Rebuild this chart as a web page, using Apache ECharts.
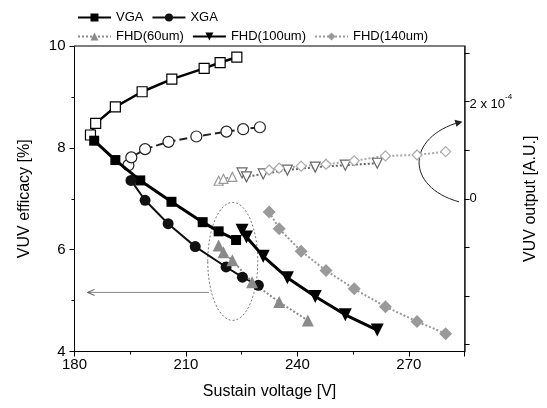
<!DOCTYPE html>
<html><head><meta charset="utf-8">
<script src="https://cdn.jsdelivr.net/npm/echarts@6/dist/echarts.min.js"></script>
<style>html,body{margin:0;padding:0;background:#fff}#c{width:547px;height:408px}</style>
</head><body><div id="c"></div>
<script>
// ---- data (left axis: VUV efficacy %) ----
var vgaV   = [185.3, 191.0, 197.7, 206.1, 214.5, 218.8, 223.5];
var vgaEff = [8.14, 7.76, 7.36, 6.94, 6.54, 6.36, 6.19];
var xgaV   = [195.2, 199.0, 205.2, 212.5, 220.8, 225.2, 229.5];
var xgaEff = [7.36, 6.97, 6.51, 6.06, 5.66, 5.46, 5.30];
var f60V   = [218.8, 220.1, 222.5, 227.8, 235.1, 242.8];
var f60Eff = [6.08, 5.95, 5.79, 5.36, 4.97, 4.61];
var f100V  = [225.1, 226.3, 230.8, 237.3, 244.8, 252.9, 261.5];
var f100Eff= [6.38, 6.25, 5.87, 5.45, 5.08, 4.72, 4.42];
var f140V  = [232.4, 235.1, 241.0, 247.7, 255.3, 263.7, 272.2, 279.9];
var f140Eff= [6.74, 6.41, 5.97, 5.59, 5.23, 4.88, 4.59, 4.35];
// ---- data (right axis: VUV output, x 1e-4 A.U.) ----
var vgaOutV  = [184.3, 185.7, 191.0, 198.2, 206.2, 214.9, 219.2, 223.7];
var vgaOut   = [1.31, 1.55, 1.89, 2.20, 2.46, 2.68, 2.80, 2.91];
var xgaOutV  = [194.5, 195.3, 199.0, 205.3, 212.8, 220.9, 225.4, 229.9];
var xgaOut   = [0.69, 0.85, 1.02, 1.17, 1.28, 1.38, 1.43, 1.47];
var f60OutV  = [218.8, 220.1, 222.5];
var f60Out   = [0.37, 0.41, 0.45];
var f100OutV = [225.1, 226.3, 230.8, 237.3, 244.8, 252.9, 261.5];
var f100Out  = [0.53, 0.45, 0.51, 0.59, 0.65, 0.69, 0.73];
var f140OutV = [232.4, 235.1, 241.0, 247.7, 255.3, 263.7, 272.2, 279.9];
var f140Out  = [0.59, 0.63, 0.67, 0.71, 0.78, 0.88, 0.90, 0.97];
// ---- axis ticks ----
var xTicks = [180, 210, 240, 270];
var yTicks = [4, 6, 8, 10];
var rLabelTicks = [0, 2];
var rTicks = [-3, -2, -1, 0, 1, 2, 3];

function zip(a, b) { return a.map(function (v, i) { return [v, b[i]]; }); }

var FONT = '"Liberation Sans", Arial, sans-serif';
var chart = echarts.init(document.getElementById('c'), null, {renderer: 'canvas'});

function filled(name, xs, ys, symbol, size, color, lw, ltype, rot) {
  return {name: name, type: 'line', data: zip(xs, ys), xAxisIndex: 0, yAxisIndex: 0,
    symbol: symbol, symbolSize: size, symbolRotate: rot || 0, showSymbol: true,
    itemStyle: {color: color, borderColor: color, borderWidth: 0},
    lineStyle: {color: color, width: lw, type: ltype}, animation: false, z: 3};
}
function hollow(name, xs, ys, symbol, size, color, lw, ltype, rot) {
  return {name: name, type: 'line', data: zip(xs, ys), xAxisIndex: 0, yAxisIndex: 1,
    symbol: symbol, symbolSize: size, symbolRotate: rot || 0, showSymbol: true,
    itemStyle: {color: '#fff', borderColor: color, borderWidth: 1.2},
    lineStyle: {color: color, width: lw, type: ltype}, animation: false, z: 2};
}

var option = {
  backgroundColor: '#fff',
  textStyle: {fontFamily: FONT},
  grid: {left: 74.5, right: 64, top: 46, bottom: 56.5, show: true, borderColor: '#000', borderWidth: 1},
  legend: [
    {data: ['VGA', 'XGA'], left: 72, top: 6, itemWidth: 33, itemHeight: 10, itemGap: 8,
     textStyle: {fontFamily: FONT, fontSize: 13, color: '#000'}},
    {data: ['FHD(60um)', 'FHD(100um)', 'FHD(140um)'], left: 72, top: 25, itemWidth: 33, itemHeight: 10, itemGap: 8,
     textStyle: {fontFamily: FONT, fontSize: 13, color: '#000'}}
  ],
  xAxis: [{
    type: 'value', min: 180, max: 285, interval: 30,
    name: 'Sustain voltage [V]', nameLocation: 'middle', nameGap: 32,
    nameTextStyle: {fontFamily: FONT, fontSize: 16, color: '#000'},
    axisLine: {show: true, onZero: false, lineStyle: {color: '#000', width: 1}},
    axisTick: {show: true, length: 5, lineStyle: {color: '#000'}},
    minorTick: {show: true, splitNumber: 2, length: 3, lineStyle: {color: '#000'}},
    axisLabel: {customValues: xTicks, fontFamily: FONT, fontSize: 15, color: '#000', margin: 6},
    splitLine: {show: false}
  }],
  yAxis: [{
    type: 'value', min: 4, max: 10, interval: 2, position: 'left',
    name: 'VUV efficacy [%]', nameLocation: 'middle', nameGap: 42,
    nameTextStyle: {fontFamily: FONT, fontSize: 16, color: '#000'},
    axisLine: {show: true, lineStyle: {color: '#000', width: 1}},
    axisTick: {show: true, length: 5, lineStyle: {color: '#000'}},
    minorTick: {show: true, splitNumber: 2, length: 3, lineStyle: {color: '#000'}},
    axisLabel: {customValues: yTicks, fontFamily: FONT, fontSize: 15, color: '#000', margin: 9},
    splitLine: {show: false}
  }, {
    type: 'value', min: -3.14, max: 3.14, position: 'right',
    name: 'VUV output [A.U.]', nameLocation: 'middle', nameGap: 35,
    nameTextStyle: {fontFamily: FONT, fontSize: 16, color: '#000'},
    axisLine: {show: true, lineStyle: {color: '#333', width: 1.5}},
    axisTick: {show: true, length: 5, customValues: rTicks, lineStyle: {color: '#000'}},
    axisLabel: {customValues: rLabelTicks, fontFamily: FONT, fontSize: 13, color: '#000', margin: 5,
      formatter: function (v) { return v === 0 ? '0' : '{a|' + v + ' x 10}{b|-4}'; },
      rich: {a: {fontFamily: FONT, fontSize: 13, color: '#000', lineHeight: 18, verticalAlign: 'bottom'},
             b: {fontFamily: FONT, fontSize: 8, color: '#000', lineHeight: 18, verticalAlign: 'top'}}},
    splitLine: {show: false}
  }],
  series: [
    filled('VGA', vgaV, vgaEff, 'rect', 10, '#000', 3, 'solid'),
    filled('XGA', xgaV, xgaEff, 'circle', 11, '#111', 2, 'solid'),
    filled('FHD(60um)', f60V, f60Eff, 'triangle', 12, '#8a8a8a', 2, 'dotted'),
    filled('FHD(100um)', f100V, f100Eff, 'triangle', 13, '#000', 3, 'solid', 180),
    filled('FHD(140um)', f140V, f140Eff, 'diamond', 13, '#9a9a9a', 2, 'dotted'),
    hollow('VGA out', vgaOutV, vgaOut, 'rect', 10, '#000', 2.5, 'solid'),
    hollow('XGA out', xgaOutV, xgaOut, 'circle', 11, '#222', 2, 'dashed'),
    hollow('FHD60 out', f60OutV, f60Out, 'triangle', 9, '#999', 2, 'dotted'),
    hollow('FHD100 out', f100OutV, f100Out, 'triangle', 10, '#666', 2, 'dotted', 180),
    hollow('FHD140 out', f140OutV, f140Out, 'diamond', 10, '#aaa', 2, 'dotted')
  ]
};
chart.setOption(option);

// annotations positioned in data space (left axis)
function P(x, y) { return chart.convertToPixel({xAxisIndex: 0, yAxisIndex: 0}, [x, y]); }
var ell = P(222.6, 5.77);
var arrR = P(216.2, 5.16), arrL = P(183.5, 5.16);
var arcB = P(283.5, 6.94), arcT = P(283.9, 8.51), arcC1 = P(269.1, 7.23), arcC2 = P(269.1, 8.21);
chart.setOption({graphic: [
  {type: 'ellipse', shape: {cx: ell[0], cy: ell[1], rx: 25, ry: 59},
   style: {fill: null, stroke: '#555', lineWidth: 0.8, lineDash: [2, 2]}, z: 1},
  {type: 'polyline', shape: {points: [arrR, arrL]}, style: {stroke: '#888', lineWidth: 1}},
  {type: 'polyline', shape: {points: [[arrL[0] + 7, arrL[1] - 3], arrL, [arrL[0] + 7, arrL[1] + 3]]},
   style: {stroke: '#555', lineWidth: 1, fill: null}},
  {type: 'bezierCurve', shape: {x1: arcB[0], y1: arcB[1], cpx1: arcC1[0], cpy1: arcC1[1],
     cpx2: arcC2[0], cpy2: arcC2[1], x2: arcT[0], y2: arcT[1]},
   style: {stroke: '#222', lineWidth: 1, fill: null}},
  {type: 'polygon', shape: {points: [[arcT[0] + 2, arcT[1]], [arcT[0] - 6, arcT[1] - 2], [arcT[0] - 4, arcT[1] + 5]]},
   style: {fill: '#222'}}
]});
</script></body></html>
